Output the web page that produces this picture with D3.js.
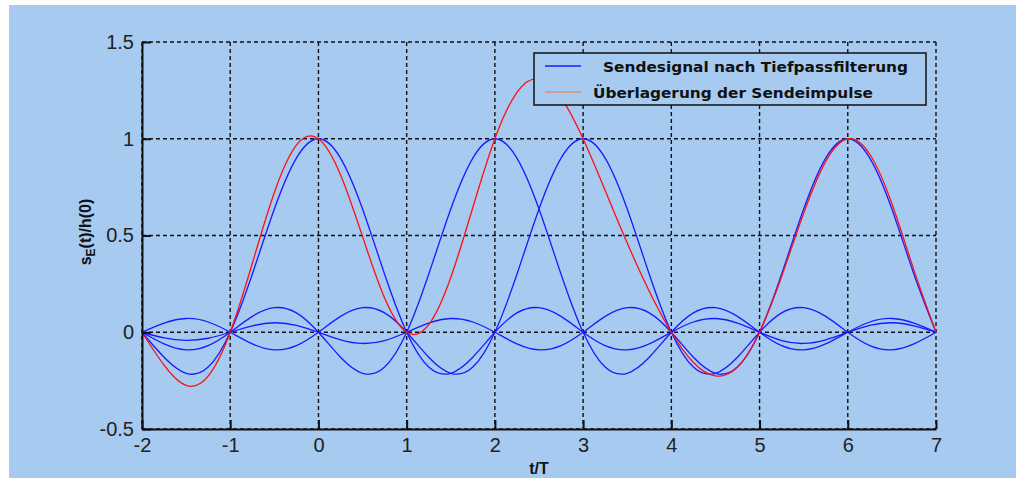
<!DOCTYPE html>
<html>
<head>
<meta charset="utf-8">
<script src="https://cdn.jsdelivr.net/npm/d3@7"></script>
<style>
  html, body { margin: 0; padding: 0; background: #fff; }
  svg { display: block; }
</style>
</head>
<body>
<svg id="chart"></svg>
<script>
// sample times (t/T)
var tGrid = [-2, -1.75, -1.5, -1.25, -1, -0.75, -0.5, -0.25, 0, 0.25, 0.5, 0.75,
             1, 1.25, 1.5, 1.75, 2, 2.25, 2.5, 2.75, 3, 3.25, 3.5, 3.75,
             4, 4.25, 4.5, 4.75, 5, 5.25, 5.5, 5.75, 6, 6.25, 6.5, 6.75, 7];

// single pulses after low-pass filtering
var pulseAt0 = [0, -.129, -.212, -.180, 0, .300, .637, .900, 1, .900, .637, .300,
                0, -.180, -.212, -.129, 0, .100, .127, .082, 0, -.069, -.091, -.060,
                0, .053, .071, .047, 0, -.043, -.058, -.039, 0, .036, .049, .033, 0];
var pulseAt2 = [0, -.060, -.091, -.069, 0, .082, .127, .100, 0, -.129, -.212, -.180,
                0, .300, .637, .900, 1, .900, .637, .300, 0, -.180, -.212, -.129,
                0, .100, .127, .082, 0, -.069, -.091, -.060, 0, .053, .071, .047, 0];
var pulseAt3 = [0, .047, .071, .053, 0, -.060, -.091, -.069, 0, .082, .127, .100,
                0, -.129, -.212, -.180, 0, .300, .637, .900, 1, .900, .637, .300,
                0, -.180, -.212, -.129, 0, .100, .127, .082, 0, -.069, -.091, -.060, 0];
var pulseAt6 = [0, -.029, -.042, -.031, 0, .033, .049, .036, 0, -.039, -.058, -.043,
                0, .047, .071, .053, 0, -.060, -.091, -.069, 0, .082, .127, .100,
                0, -.129, -.212, -.180, 0, .300, .637, .900, 1, .900, .637, .300, 0];

// superposition of the transmitted pulses (red)
var sumSignal = [0, -.170, -.275, -.227, 0, .355, .722, .967, 1, .814, .494, .177,
                 0, .039, .283, .645, 1, 1.240, 1.310, 1.213, 1, .733, .461, .212,
                 0, -.156, -.226, -.180, 0, .288, .615, .883, 1, .920, .665, .321, 0];

var xTicks = [-2, -1, 0, 1, 2, 3, 4, 5, 6, 7];
var yTicks = [-0.5, 0, 0.5, 1, 1.5];
var legendLabels = ["Sendesignal nach Tiefpassfilterung", "\u00dcberlagerung der Sendeimpulse"];

var width = 1016, height = 478;
var bg = "#a6caf0";

var svg = d3.select("#chart")
    .attr("width", width)
    .attr("height", height);

svg.append("rect").attr("width", width).attr("height", height).attr("fill", "#fff");
svg.append("rect")
    .attr("x", 9).attr("y", 5)
    .attr("width", width - 9).attr("height", height - 5)
    .attr("fill", bg);

var plot = {left: 142, right: 936, top: 42, bottom: 429};

var x = d3.scaleLinear().domain([-2, 7]).range([plot.left, plot.right]);
var y = d3.scaleLinear().domain([-0.5, 1.5]).range([plot.bottom, plot.top]);

// dashed grid
var grid = svg.append("g")
    .attr("stroke", "#111")
    .attr("stroke-width", 1.4)
    .attr("stroke-dasharray", "4,3");

grid.selectAll("line.gx")
    .data(xTicks)
  .enter().append("line")
    .attr("class", "gx")
    .attr("x1", function(d) { return x(d); })
    .attr("x2", function(d) { return x(d); })
    .attr("y1", y(1.5))
    .attr("y2", y(-0.5));

grid.selectAll("line.gy")
    .data(yTicks)
  .enter().append("line")
    .attr("class", "gy")
    .attr("x1", x(-2))
    .attr("x2", x(7))
    .attr("y1", function(d) { return y(d); })
    .attr("y2", function(d) { return y(d); });

// curves
var line = d3.line()
    .x(function(d, i) { return x(tGrid[i]); })
    .y(function(d) { return y(d); })
    .curve(d3.curveNatural);

[pulseAt0, pulseAt2, pulseAt3, pulseAt6].forEach(function(s) {
  svg.append("path")
      .attr("d", line(s))
      .attr("fill", "none")
      .attr("stroke", "#1a1aff")
      .attr("stroke-width", 1.3);
});

svg.append("path")
    .attr("d", line(sumSignal))
    .attr("fill", "none")
    .attr("stroke", "#ff1010")
    .attr("stroke-width", 1.3);

// axes
var fmt = function(d) { return String(d); };

var yAxis = svg.append("g")
    .attr("transform", "translate(" + plot.left + ",0)")
    .call(d3.axisLeft(y).tickValues(yTicks).tickFormat(fmt)
      .tickSizeInner(-9).tickSizeOuter(0).tickPadding(8));

var xAxis = svg.append("g")
    .attr("transform", "translate(0," + plot.bottom + ")")
    .call(d3.axisBottom(x).tickValues(xTicks).tickFormat(fmt)
      .tickSizeInner(-9).tickSizeOuter(0).tickPadding(9));

[xAxis, yAxis].forEach(function(a) {
  a.attr("color", "#111");
  a.select(".domain").attr("stroke-width", 2);
  a.selectAll(".tick line").attr("stroke-width", 2);
  a.selectAll("text")
      .attr("font-family", "Liberation Sans, Arial, sans-serif")
      .attr("font-size", 20)
      .attr("fill", "#222");
});

// axis labels
var ylab = svg.append("text")
    .attr("transform", "translate(91,232) rotate(-90)")
    .attr("text-anchor", "middle")
    .attr("font-family", "Liberation Sans, Arial, sans-serif")
    .attr("font-weight", "bold")
    .attr("font-size", 16)
    .attr("fill", "#111");
ylab.append("tspan").text("s");
ylab.append("tspan").attr("dy", 4).attr("font-size", 12).text("E");
ylab.append("tspan").attr("dy", -4).text("(t)/h(0)");

svg.append("text")
    .attr("x", (plot.left + plot.right) / 2)
    .attr("y", 474)
    .attr("text-anchor", "middle")
    .attr("font-family", "Liberation Sans, Arial, sans-serif")
    .attr("font-weight", "bold")
    .attr("font-size", 16)
    .attr("fill", "#111")
    .text("t/T");

// legend
var legend = svg.append("g");
legend.append("rect")
    .attr("x", 534).attr("y", 53)
    .attr("width", 392).attr("height", 52)
    .attr("fill", bg)
    .attr("stroke", "#111")
    .attr("stroke-width", 1.5);

var legendColors = ["#1a1aff", "#e0906e"];
var legendTextX = [603, 593];
var legendWidths = [305, 280];

legendLabels.forEach(function(label, i) {
  var ly = 66 + i * 26;
  legend.append("line")
      .attr("x1", 545).attr("x2", 581)
      .attr("y1", ly).attr("y2", ly)
      .attr("stroke", legendColors[i])
      .attr("stroke-width", 1.5);
  legend.append("text")
      .attr("x", legendTextX[i])
      .attr("y", ly + 6)
      .attr("font-family", "DejaVu Sans, Verdana, sans-serif")
      .attr("font-weight", "bold")
      .attr("font-size", 13.5)
      .attr("textLength", legendWidths[i])
      .attr("lengthAdjust", "spacingAndGlyphs")
      .attr("fill", "#111")
      .text(label);
});
</script>
</body>
</html>
